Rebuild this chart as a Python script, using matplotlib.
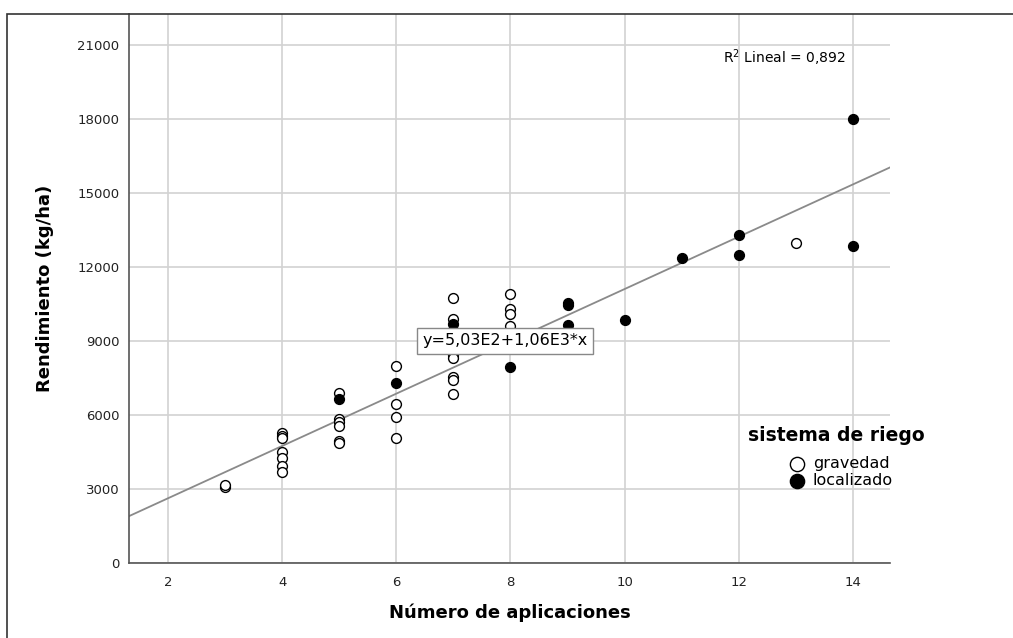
import matplotlib.pyplot as plt
from matplotlib.patches import Rectangle
import numpy as np

# datos
grav_x = [3, 3, 4, 4, 4, 4, 4, 4, 4, 5, 5, 5, 5, 5, 5, 6, 6, 6, 6,
          7, 7, 7, 7, 7, 7, 7, 8, 8, 8, 8, 13]
grav_y = [3100, 3150, 5250, 5150, 5050, 4500, 4250, 3950, 3700,
          6900, 5850, 5700, 5550, 4950, 4850, 8000, 6450, 5900, 5050,
          10750, 9900, 8450, 8300, 7550, 7400, 6850,
          10900, 10300, 10100, 9600, 12950]
loc_x = [5, 6, 7, 8, 9, 9, 9, 10, 11, 12, 12, 14, 14]
loc_y = [6650, 7300, 9700, 7950, 10550, 10450, 9650, 9850, 12350,
         13300, 12500, 18000, 12850]
intercepto = 503
pendiente = 1060
r2 = '0,892'
yticks = [0, 3000, 6000, 9000, 12000, 15000, 18000, 21000]
xticks = [2, 4, 6, 8, 10, 12, 14]

fig = plt.figure(figsize=(10.13, 6.38), dpi=100)
ax = fig.add_axes([129/1013, 75/638, 761/1013, 549/638])

# marco exterior
fig.patches.append(Rectangle((7/1013, -0.1), 1.2, (624/638) + 0.1,
                             transform=fig.transFigure, fill=False,
                             ec='#333333', lw=1.2))

xmin, xmax = 1.317, 14.65
ax.set_xlim(xmin, xmax)
ax.set_ylim(0, 22250)

ax.grid(True, color='#d2d2d2', lw=1.2)
ax.set_axisbelow(True)

xl = np.array([xmin, xmax])
ax.plot(xl, intercepto + pendiente * xl, color='#8a8a8a', lw=1.3, zorder=2)

ax.scatter(grav_x, grav_y, s=50, facecolors='white', edgecolors='black',
           linewidths=1.0, zorder=3, label='gravedad')
ax.scatter(loc_x, loc_y, s=50, facecolors='black', edgecolors='black',
           linewidths=1.0, zorder=3, label='localizado')

ax.set_xticks(xticks)
ax.set_yticks(yticks)
ax.tick_params(length=0, labelsize=9.5, colors='#222222')
ax.tick_params(axis='x', pad=9)
ax.tick_params(axis='y', pad=7)

for s in ['top', 'right']:
    ax.spines[s].set_visible(False)
for s in ['left', 'bottom']:
    ax.spines[s].set_color('#555555')
    ax.spines[s].set_linewidth(1.2)

ax.set_xlabel('Número de aplicaciones', fontsize=13, fontweight='bold',
              labelpad=11)
ax.set_ylabel('Rendimiento (kg/ha)', fontsize=13, fontweight='bold',
              labelpad=17)

ax.text(7.9, 9000, 'y=5,03E2+1,06E3*x', ha='center', va='center',
        fontsize=11.5, zorder=4,
        bbox=dict(boxstyle='square,pad=0.35', fc='white', ec='#888888', lw=1))
ax.text(11.72, 20480, r'$\mathregular{R^2}$ Lineal = ' + r2, ha='left',
        va='center', fontsize=10)

leg = ax.legend(loc='upper center', bbox_to_anchor=(0.93, 0.27),
                frameon=False, title='sistema de riego', fontsize=11.5,
                handletextpad=0.0, labelspacing=0.15, borderpad=0.2,
                markerscale=1.45)
leg.get_title().set_fontweight('bold')
leg.get_title().set_fontsize(13.5)
leg._legend_box.sep = 8

fig.savefig('out.png', dpi=100)
